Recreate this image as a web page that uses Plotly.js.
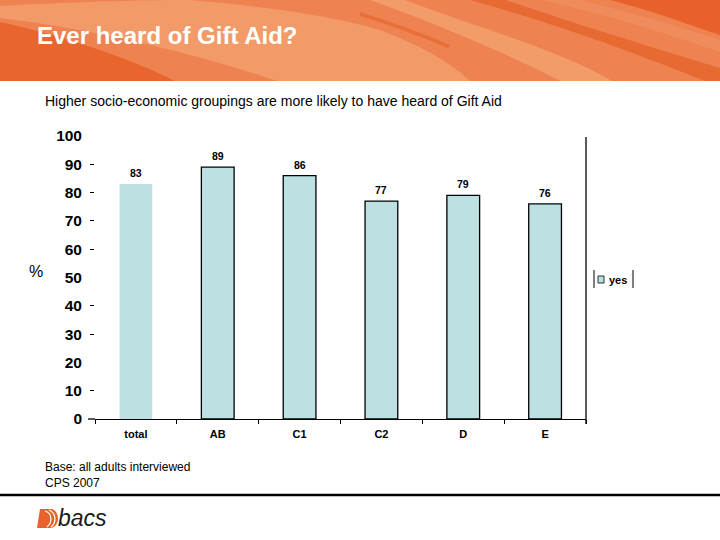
<!DOCTYPE html>
<html>
<head>
<meta charset="utf-8">
<script src="https://cdn.plot.ly/plotly-3.0.1.min.js"></script>
<style>html,body{margin:0;padding:0;background:#fff;}#chart{width:720px;height:540px;}</style>
</head>
<body>
<div id="chart"></div>
<script>
var categories = ['total', 'AB', 'C1', 'C2', 'D', 'E'];
var yesValues = [83, 89, 86, 77, 79, 76];
var seriesName = 'yes';
var titleText = 'Ever heard of Gift Aid?';
var subtitleText = 'Higher socio-economic groupings are more likely to have heard of Gift Aid';
var footnoteLines = ['Base: all adults interviewed', 'CPS 2007'];
var yTickVals = [0, 10, 20, 30, 40, 50, 60, 70, 80, 90, 100];
var yDashTicks = [10, 30, 40, 60, 70, 80, 90];

// plot area in pixels
var L = 95, R = 586, T = 136, B = 419;
var W = 720, H = 540;
function X(px) { return (px - L) / (R - L); }
function Y(py) { return (B - py) / (B - T); }
function pathPx(cmds) {
  return cmds.map(function (c) {
    var s = c[0];
    for (var i = 1; i < c.length; i += 2) {
      s += (i > 1 ? ' ' : '') + X(c[i]).toFixed(5) + ',' + Y(c[i + 1]).toFixed(5);
    }
    return s;
  }).join(' ');
}
var FONT = 'Arial, "Liberation Sans", sans-serif';
var barColor = '#BDE0E3';

var shapes = [];
function pshape(cmds, fill) {
  shapes.push({type: 'path', xref: 'paper', yref: 'paper', path: pathPx(cmds),
    fillcolor: fill, line: {width: 0}, layer: 'below'});
}
// header banner
shapes.push({type: 'rect', xref: 'paper', yref: 'paper', x0: X(0), x1: X(720), y0: Y(81), y1: Y(0),
  fillcolor: '#EE8250', line: {width: 0}, layer: 'below'});
pshape([['M', 0, 6], ['C', 70, 2, 140, 0, 190, 0], ['C', 260, 6, 330, 15, 380, 30], ['C', 420, 45, 450, 62, 470, 81],
  ['L', 277, 81], ['C', 200, 55, 100, 30, 0, 18], ['Z']], '#F29A68');
pshape([['M', 0, 22], ['C', 60, 35, 130, 58, 175, 81], ['L', 0, 81], ['Z']], '#E8652D');
pshape([['M', 360, 12], ['C', 390, 22, 420, 32, 450, 45], ['L', 448, 48], ['C', 420, 36, 390, 25, 360, 16], ['Z']], '#EA6E38');
pshape([['M', 370, 0], ['L', 405, 0], ['C', 470, 25, 560, 50, 612, 81], ['L', 560, 81], ['C', 510, 55, 440, 25, 370, 0], ['Z']], '#F29C6A');
pshape([['M', 470, 0], ['L', 505, 0], ['C', 580, 25, 660, 50, 720, 68], ['L', 720, 81], ['L', 705, 81], ['C', 640, 55, 560, 25, 470, 0], ['Z']], '#E86A33');
pshape([['M', 540, 0], ['L', 580, 0], ['C', 640, 15, 690, 30, 720, 40], ['L', 720, 52], ['C', 670, 35, 610, 15, 540, 0], ['Z']], '#F08C5C');
pshape([['M', 610, 0], ['L', 720, 0], ['L', 720, 35], ['C', 690, 25, 650, 10, 610, 0], ['Z']], '#E8602A');

// right frame line
shapes.push({type: 'line', xref: 'paper', yref: 'paper', x0: 1, x1: 1, y0: Y(424), y1: Y(137),
  line: {color: '#000', width: 1.3}});
// legend bars and swatch
shapes.push({type: 'line', xref: 'paper', yref: 'paper', x0: X(594), x1: X(594), y0: Y(288), y1: Y(270), line: {color: '#000', width: 1}});
shapes.push({type: 'line', xref: 'paper', yref: 'paper', x0: X(633), x1: X(633), y0: Y(288), y1: Y(270), line: {color: '#000', width: 1}});
shapes.push({type: 'rect', xref: 'paper', yref: 'paper', x0: X(598), x1: X(604), y0: Y(283), y1: Y(276),
  fillcolor: barColor, line: {color: '#000', width: 0.8}});
// x axis extension to the left
shapes.push({type: 'line', xref: 'paper', yref: 'paper', x0: X(88), x1: X(95), y0: 0, y1: 0, line: {color: '#000', width: 1.3}});
// footer rule
shapes.push({type: 'line', xref: 'paper', yref: 'paper', x0: X(0), x1: X(720), y0: Y(495), y1: Y(495), line: {color: '#000', width: 2.5}});
// logo mark
pshape([['M', 40, 509], ['L', 51, 509], ['C', 60, 510, 61, 527, 50, 528], ['L', 37, 528], ['Z']], '#E8622A');
shapes.push({type: 'path', xref: 'paper', yref: 'paper', path: pathPx([['M', 45, 511], ['C', 52, 513, 53, 522, 47, 527]]), line: {color: '#fff', width: 1.2}});
shapes.push({type: 'path', xref: 'paper', yref: 'paper', path: pathPx([['M', 49, 510], ['C', 56, 513, 57, 522, 51, 527]]), line: {color: '#fff', width: 1.2}});

var annotations = [];
annotations.push({xref: 'paper', yref: 'paper', x: X(35), y: Y(36), xanchor: 'left', yanchor: 'middle', showarrow: false,
  text: titleText, font: {family: FONT, size: 24, color: '#fff', weight: 'bold'}});
annotations.push({xref: 'paper', yref: 'paper', x: X(43), y: Y(101), xanchor: 'left', yanchor: 'middle', showarrow: false,
  text: subtitleText, font: {family: FONT, size: 14, color: '#000'}});
annotations.push({xref: 'paper', yref: 'paper', x: X(43), y: Y(475), xanchor: 'left', yanchor: 'middle', showarrow: false, align: 'left',
  text: footnoteLines.join('<br>'), font: {family: FONT, size: 12, color: '#000'}});
annotations.push({xref: 'paper', yref: 'paper', x: X(36), y: Y(271), xanchor: 'center', yanchor: 'middle', showarrow: false,
  text: '%', font: {family: FONT, size: 16, color: '#000'}});
annotations.push({xref: 'paper', yref: 'paper', x: X(607), y: Y(280), xanchor: 'left', yanchor: 'middle', showarrow: false,
  text: seriesName, font: {family: FONT, size: 11, color: '#000', weight: 'bold'}});
annotations.push({xref: 'paper', yref: 'paper', x: X(56), y: Y(518), xanchor: 'left', yanchor: 'middle', showarrow: false,
  text: '<i>bacs</i>', font: {family: FONT, size: 23, color: '#1a1a1a'}});
for (var i = 0; i < categories.length; i++) {
  annotations.push({x: categories[i], y: yesValues[i], xref: 'x', yref: 'y', yanchor: 'bottom', yshift: 3, showarrow: false,
    text: String(yesValues[i]), font: {family: FONT, size: 10.5, color: '#000', weight: 'bold'}});
}

var trace = {
  type: 'bar', x: categories, y: yesValues, name: seriesName, width: 0.4,
  marker: {color: barColor, line: {color: '#000', width: [0, 1.3, 1.3, 1.3, 1.3, 1.3]}},
  hoverinfo: 'none', showlegend: false
};

var layout = {
  width: W, height: H,
  margin: {l: L, r: W - R, t: T, b: H - B, pad: 0},
  paper_bgcolor: '#fff', plot_bgcolor: '#fff',
  showlegend: false,
  font: {family: FONT, color: '#000'},
  xaxis: {type: 'category', showline: true, linecolor: '#000', linewidth: 1.3,
    ticks: 'outside', tickson: 'boundaries', ticklen: 4, tickcolor: '#000', tickwidth: 1,
    ticklabelstandoff: 4,
    tickfont: {family: FONT, size: 11, color: '#000', weight: 'bold'}, showgrid: false, zeroline: false, fixedrange: true},
  yaxis: {range: [0, 100], tickvals: yTickVals, ticks: '', showline: false, showgrid: false, zeroline: false,
    ticklabelstandoff: 12,
    minor: {tickvals: yDashTicks, ticks: 'outside', ticklen: 4, tickcolor: '#000', tickwidth: 1, showgrid: false},
    tickfont: {family: FONT, size: 15.5, color: '#000', weight: 'bold'}, fixedrange: true},
  shapes: shapes,
  annotations: annotations
};

Plotly.newPlot('chart', [trace], layout, {displayModeBar: false, staticPlot: true});
</script>
</body>
</html>
